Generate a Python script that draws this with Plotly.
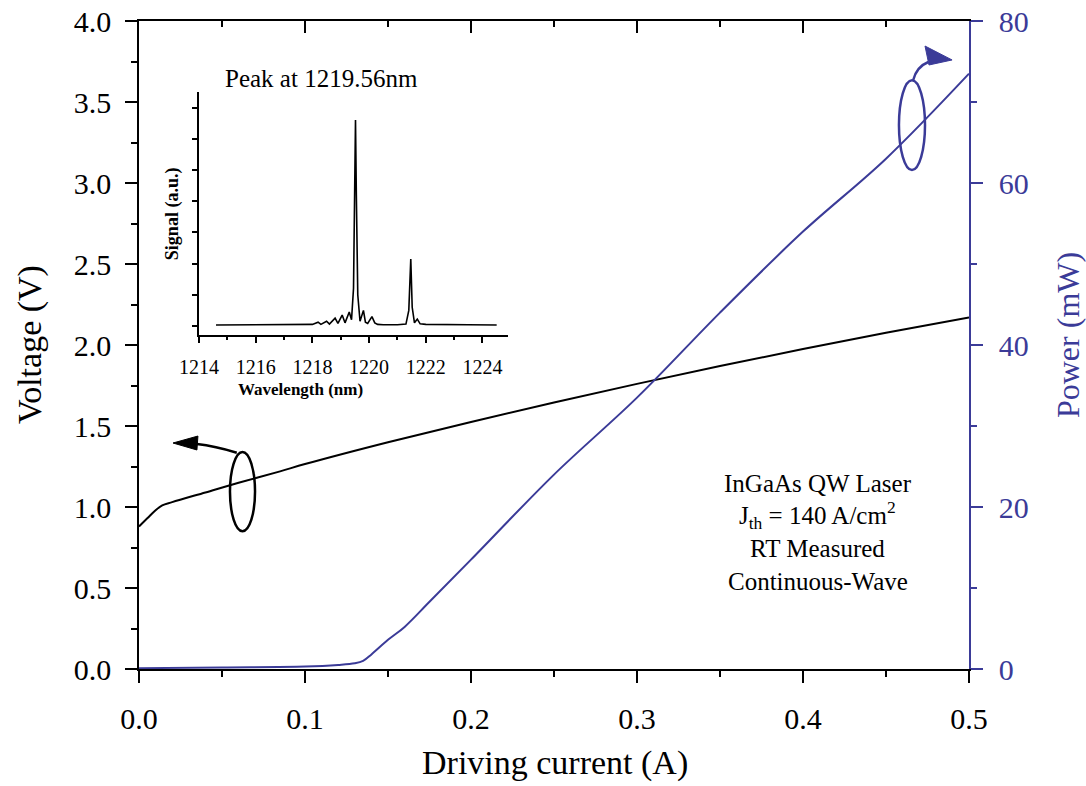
import plotly.graph_objects as go

# L-I-V data of the InGaAs QW laser
current_v = [0.0, 0.005, 0.01, 0.014, 0.02, 0.04, 0.06, 0.085, 0.1, 0.15, 0.2, 0.25, 0.3, 0.35, 0.4, 0.45, 0.5]
voltage = [0.88, 0.93, 0.98, 1.01, 1.03, 1.09, 1.15, 1.22, 1.265, 1.40, 1.525, 1.645, 1.76, 1.87, 1.975, 2.075, 2.17]

current_p = [0.0, 0.05, 0.1, 0.12, 0.13, 0.135, 0.14, 0.15, 0.16, 0.175, 0.2, 0.25, 0.3, 0.35, 0.4, 0.45, 0.5]
power = [0.1, 0.2, 0.3, 0.5, 0.7, 1.0, 1.8, 3.6, 5.2, 8.3, 13.5, 24.0, 33.5, 44.0, 54.0, 63.0, 73.5]

# Lasing spectrum (inset)
wavelength = [1214.6, 1215.5, 1216.5, 1217.5, 1218.0, 1218.2, 1218.3, 1218.5, 1218.6, 1218.8,
              1218.9, 1219.05, 1219.15, 1219.3, 1219.38, 1219.45, 1219.49, 1219.52, 1219.55, 1219.6,
              1219.68, 1219.8, 1219.87, 1219.95, 1220.1, 1220.2, 1220.3, 1220.5, 1221.0, 1221.3,
              1221.4, 1221.47, 1221.52, 1221.6, 1221.7, 1221.8, 1222.0, 1222.5, 1223.5, 1224.5]
signal = [0.03, 0.03, 0.03, 0.04, 0.05, 0.12, 0.05, 0.15, 0.06, 0.25,
          0.08, 0.35, 0.1, 0.45, 0.2, 1.2, 4.0, 6.6, 4.2, 1.0,
          0.15, 0.5, 0.12, 0.08, 0.3, 0.1, 0.05, 0.04, 0.04, 0.06,
          0.5, 2.15, 0.6, 0.1, 0.22, 0.07, 0.05, 0.04, 0.04, 0.03]

BLUE = "#3b3b98"
FONT = "Liberation Serif"

fig = go.Figure()

fig.add_trace(go.Scatter(x=current_v, y=voltage, mode="lines", line_shape="spline",
                         line=dict(color="black", width=2), xaxis="x", yaxis="y",
                         showlegend=False, hoverinfo="skip"))
fig.add_trace(go.Scatter(x=current_p, y=power, mode="lines", line_shape="spline",
                         line=dict(color=BLUE, width=2), xaxis="x", yaxis="y2",
                         showlegend=False, hoverinfo="skip"))
# helper trace so the top frame axis is drawn
fig.add_trace(go.Scatter(x=current_v, y=voltage, mode="none", xaxis="x3", yaxis="y",
                         showlegend=False, hoverinfo="skip"))
fig.add_trace(go.Scatter(x=wavelength, y=signal, mode="lines",
                         line=dict(color="black", width=1.6), xaxis="x2", yaxis="y3",
                         showlegend=False, hoverinfo="skip"))

tick_font = dict(family=FONT, size=30, color="black")

fig.update_layout(
    width=1086, height=786, autosize=False,
    margin=dict(l=139, r=117, t=21, b=117),
    paper_bgcolor="white", plot_bgcolor="white",
    font=dict(family=FONT, color="black"),
    xaxis=dict(range=[0, 0.5], dtick=0.1, tick0=0, tickformat=".1f",
               showline=True, linecolor="black", linewidth=1.5,
               ticks="outside", ticklen=12, tickwidth=1.5, tickcolor="black",
               minor=dict(dtick=0.05, ticklen=6, ticks="outside", tickcolor="black", tickwidth=1.5),
               showgrid=False, zeroline=False, tickfont=tick_font, ticklabelstandoff=10,
               anchor="y", automargin=False),
    xaxis3=dict(range=[0, 0.5], dtick=0.1, tick0=0, overlaying="x", side="top",
                showline=True, linecolor="black", linewidth=1.5,
                ticks="inside", ticklen=12, tickwidth=1.5, tickcolor="black",
                minor=dict(dtick=0.05, ticklen=6, ticks="inside", tickcolor="black", tickwidth=1.5),
                showgrid=False, zeroline=False, showticklabels=False, anchor="y",
                automargin=False),
    yaxis=dict(range=[0, 4], dtick=0.5, tick0=0, tickformat=".1f",
               showline=True, linecolor="black", linewidth=1.5,
               ticks="outside", ticklen=12, tickwidth=1.5, tickcolor="black",
               minor=dict(dtick=0.25, ticklen=6, ticks="outside", tickcolor="black", tickwidth=1.5),
               showgrid=False, zeroline=False, tickfont=tick_font, ticklabelstandoff=8,
               automargin=False),
    yaxis2=dict(range=[0, 80], dtick=20, tick0=0, overlaying="y", side="right",
                showline=True, linecolor=BLUE, linewidth=1.5,
                ticks="outside", ticklen=12, tickwidth=1.5, tickcolor=BLUE,
                minor=dict(dtick=10, ticklen=6, ticks="outside", tickcolor=BLUE, tickwidth=1.5),
                showgrid=False, zeroline=False,
                tickfont=dict(family=FONT, size=30, color=BLUE), ticklabelstandoff=10,
                automargin=False),
    xaxis2=dict(domain=[0.0723, 0.4446], range=[1214, 1224.9], dtick=2, tick0=1214,
                showline=True, linecolor="black", linewidth=2,
                ticks="outside", ticklen=6, tickwidth=1.5, tickcolor="black",
                minor=dict(dtick=1, ticklen=3, ticks="outside", tickcolor="black"),
                showgrid=False, zeroline=False,
                tickfont=dict(family=FONT, size=20, color="black"), ticklabelstandoff=7,
                anchor="y3", automargin=False),
    yaxis3=dict(domain=[0.5154, 0.8904], range=[-0.29, 7.5], dtick=1, tick0=0,
                showline=True, linecolor="black", linewidth=2,
                ticks="outside", ticklen=5, tickwidth=1.5, tickcolor="black",
                showgrid=False, zeroline=False, showticklabels=False, anchor="x2",
                automargin=False),
)

def txt(text, x, y, size, color="black", angle=0, bold=False):
    if bold:
        text = "<b>" + text + "</b>"
    fig.add_annotation(text=text, x=x, y=y, xref="paper", yref="paper",
                       showarrow=False, textangle=angle, xanchor="center", yanchor="middle",
                       font=dict(family=FONT, size=size, color=color))

# axis titles
txt("Voltage (V)", -0.1313, 0.5, 34, angle=-90)
txt("Power (mW)", 1.1193, 0.5154, 32, color=BLUE, angle=-90)
txt("Driving current (A)", 0.5012, -0.1451, 34)

# inset labels
txt("Peak at 1219.56nm", 0.2193, 0.912, 25)
txt("Signal (a.u.)", 0.0398, 0.702, 18, angle=-90, bold=True)
txt("Wavelength (nm)", 0.194, 0.432, 17, bold=True)

# device description
txt("InGaAs QW Laser", 0.818, 0.287, 25)
txt("J<sub>th</sub> = 140 A/cm<sup>2</sup>", 0.818, 0.2377, 25)
txt("RT Measured", 0.818, 0.1852, 25)
txt("Continuous-Wave", 0.818, 0.1358, 25)

# ellipse + arrow marking the voltage curve (left axis)
fig.add_shape(type="circle", xref="x", yref="y", x0=0.0548, x1=0.0699, y0=0.85, y1=1.34,
              line=dict(color="black", width=2.5))
fig.add_shape(type="path", xref="x", yref="y",
              path="M 0.0589 1.335 Q 0.0458 1.377 0.0349 1.389",
              line=dict(color="black", width=2.5))
fig.add_shape(type="path", xref="x", yref="y",
              path="M 0.0205 1.395 L 0.0355 1.438 L 0.0349 1.352 Z",
              fillcolor="black", line=dict(color="black", width=1))

# ellipse + arrow marking the power curve (right axis)
fig.add_shape(type="circle", xref="x", yref="y2", x0=0.4578, x1=0.4735, y0=61.6, y1=72.7,
              line=dict(color=BLUE, width=2.5))
fig.add_shape(type="path", xref="x", yref="y2",
              path="M 0.4664 72.72 Q 0.4685 74.36 0.4755 74.94",
              line=dict(color=BLUE, width=2.5))
fig.add_shape(type="path", xref="x", yref="y2",
              path="M 0.4898 75.19 L 0.4735 76.91 L 0.4759 74.57 Z",
              fillcolor=BLUE, line=dict(color=BLUE, width=1))

fig.write_html("out.html")
